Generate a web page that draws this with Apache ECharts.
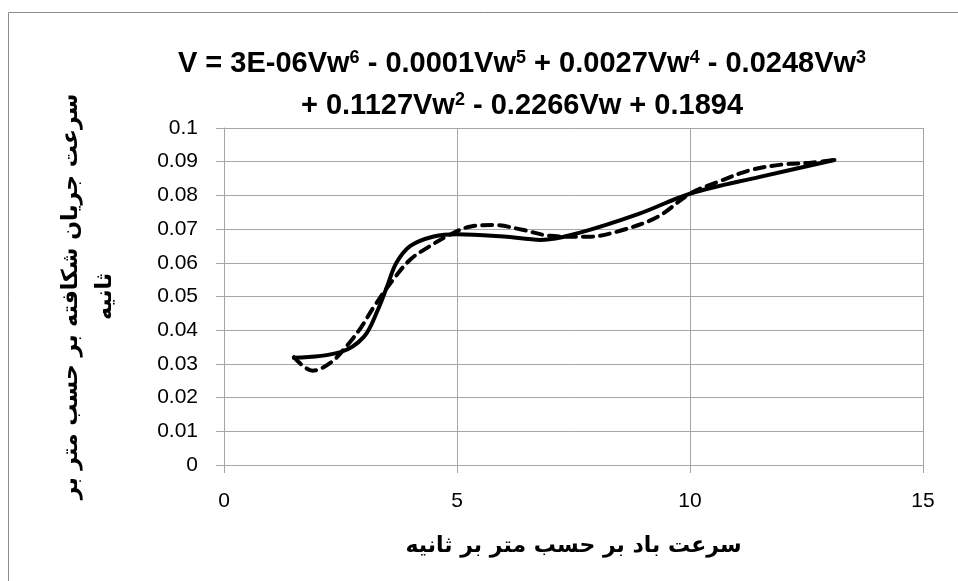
<!DOCTYPE html>
<html>
<head>
<meta charset="utf-8">
<script src="https://cdn.jsdelivr.net/npm/echarts@6/dist/echarts.min.js"></script>
<style>html,body{margin:0;padding:0;background:#fff}#c{width:958px;height:581px}</style>
</head>
<body>
<div id="c"></div>
<script>
// Measured data (solid line)
var measuredX = [1.5, 2.5, 3.0, 3.3, 3.5, 3.7, 4.0, 4.5, 5.0, 6.0, 6.8, 7.6, 8.9, 10.0, 11.5, 13.1];
var measuredV = [0.0318, 0.0335, 0.038, 0.046, 0.053, 0.060, 0.065, 0.0678, 0.0685, 0.0678, 0.0668, 0.0688, 0.0745, 0.0805, 0.0855, 0.0905];
// Polynomial trendline (dashed)
var trendX = [1.5, 1.9, 2.3, 2.65, 2.95, 3.2, 3.63, 4.0, 4.4, 4.8, 5.3, 5.8, 6.4, 7.0, 7.8, 8.5, 9.3, 10.0, 10.6, 11.3, 12.0, 12.6, 13.1];
var trendV = [0.032, 0.028, 0.0305, 0.0356, 0.041, 0.0466, 0.055, 0.061, 0.0648, 0.068, 0.0708, 0.0712, 0.0698, 0.068, 0.0677, 0.0695, 0.0736, 0.0805, 0.084, 0.0875, 0.0892, 0.0897, 0.0905];
var xTicks = [0, 5, 10, 15];
var yTicks = [0, 0.01, 0.02, 0.03, 0.04, 0.05, 0.06, 0.07, 0.08, 0.09, 0.1];
var titleLine1 = 'V = 3E-06Vw{s|6} - 0.0001Vw{s|5} + 0.0027Vw{s|4} - 0.0248Vw{s|3}';
var titleLine2 = '+ 0.1127Vw{s|2} - 0.2266Vw + 0.1894';
var xName = 'سرعت باد بر حسب متر بر ثانیه';
var yName = 'سرعت جریان شکافته بر حسب متر بر\nثانیه';

function zip(a, b) { return a.map(function (v, i) { return [v, b[i]]; }); }

var chart = echarts.init(document.getElementById('c'), null, {renderer: 'canvas'});
var gridColor = '#a6a6a6';
chart.setOption({
  animation: false,
  backgroundColor: '#fff',
  graphic: [{
    type: 'rect', silent: true,
    shape: {x: 8.5, y: 12.5, width: 1000, height: 700},
    style: {fill: 'none', stroke: '#8c8c8c', lineWidth: 1}
  }],
  title: {
    text: titleLine1 + '\n' + titleLine2,
    left: 517, top: 38, textAlign: 'center',
    textStyle: {
      fontFamily: 'Liberation Sans', fontWeight: 'bold', fontSize: 29, color: '#000', lineHeight: 42,
      rich: {s: {fontFamily: 'Liberation Sans', fontWeight: 'bold', fontSize: 18, color: '#000', verticalAlign: 'top', lineHeight: 42, padding: [6, 0, 0, 0]}}
    }
  },
  grid: {left: 224, right: 35, top: 128, bottom: 116, containLabel: false},
  xAxis: {
    type: 'value', min: 0, max: 15, interval: 5,
    name: xName, nameLocation: 'middle', nameGap: 70,
    nameTextStyle: {fontFamily: 'DejaVu Sans', fontWeight: 'bold', fontSize: 22, color: '#000'},
    axisLine: {show: true, onZero: false, lineStyle: {color: gridColor, width: 1}},
    axisTick: {show: true, length: 8, lineStyle: {color: gridColor}},
    axisLabel: {margin: 26, fontFamily: 'Liberation Sans', fontSize: 21, color: '#000',
      formatter: function (v) { return xTicks.indexOf(v) >= 0 ? String(v) : ''; }},
    splitLine: {show: true, lineStyle: {color: gridColor, width: 1}}
  },
  yAxis: {
    type: 'value', min: 0, max: 0.1, interval: 0.01,
    name: yName, nameLocation: 'middle', nameGap: 102, nameRotate: 90,
    nameTextStyle: {fontFamily: 'DejaVu Sans', fontWeight: 'bold', fontSize: 22, color: '#000', lineHeight: 34, align: 'center'},
    axisLine: {show: true, lineStyle: {color: gridColor, width: 1}},
    axisTick: {show: true, length: 8, lineStyle: {color: gridColor}},
    axisLabel: {margin: 26, fontFamily: 'Liberation Sans', fontSize: 21, color: '#000',
      formatter: function (v) {
        var r = Math.round(v * 100) / 100;
        return yTicks.indexOf(r) >= 0 ? String(r) : '';
      }},
    splitLine: {show: true, lineStyle: {color: gridColor, width: 1}}
  },
  series: [{
    type: 'line', data: zip(measuredX, measuredV), smooth: 0.35, showSymbol: false, symbol: 'none',
    lineStyle: {color: '#000', width: 4, cap: 'round', join: 'round'}, z: 3
  }, {
    type: 'line', data: zip(trendX, trendV), smooth: 0.35, showSymbol: false, symbol: 'none',
    lineStyle: {color: '#000', width: 4, type: [10, 7], cap: 'round', join: 'round'}, z: 4
  }]
});
</script>
</body>
</html>
